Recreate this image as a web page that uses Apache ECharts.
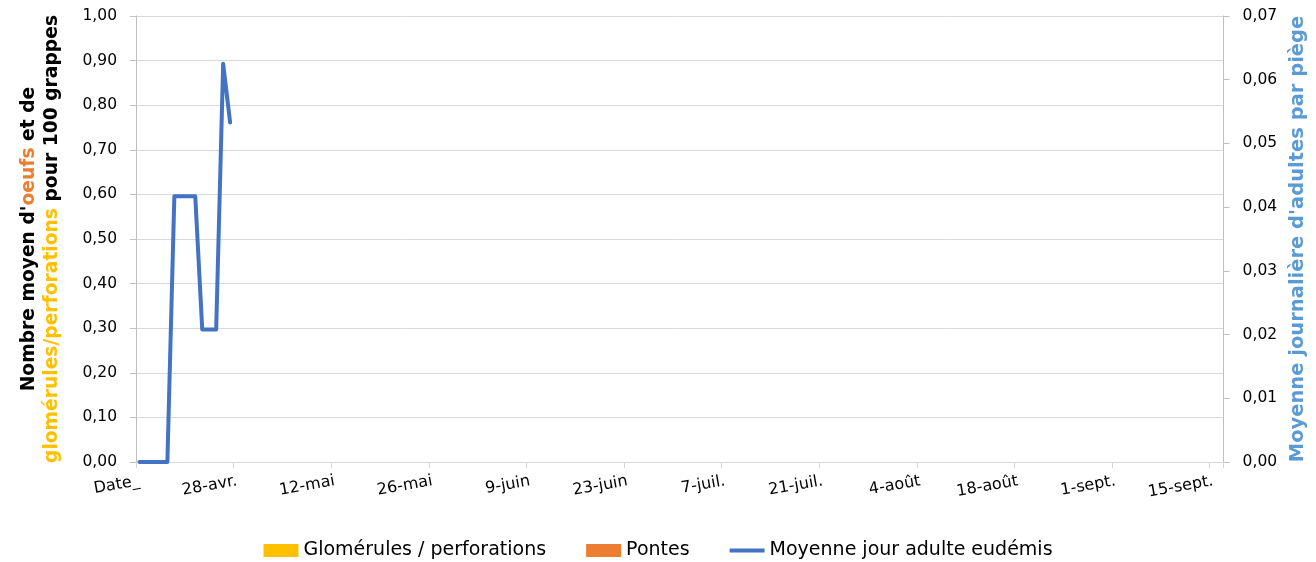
<!DOCTYPE html>
<html>
<head>
<meta charset="utf-8">
<script src="https://cdn.jsdelivr.net/npm/echarts@6/dist/echarts.min.js"></script>
<style>
  html, body { margin: 0; padding: 0; background: #fff; }
  #chart { width: 1316px; height: 562px; }
</style>
</head>
<body>
<div id="chart"></div>
<script>
// axe des dates : un jour par catégorie, du 14 avril au 16 septembre
const startDay = 14;
const moisNoms = ['avr.', 'mai', 'juin', 'juil.', 'août', 'sept.'];
const moisJours = [30, 31, 30, 31, 31, 30];
const nbJours = 156;

// relevés (date, moyenne jour adulte eudémis par piège)
const datesReleve = ['14-avr.', '18-avr.', '19-avr.', '22-avr.', '23-avr.', '25-avr.', '26-avr.', '27-avr.'];
const adultesEudemis = [0, 0, 0.0417, 0.0417, 0.0208, 0.0208, 0.0625, 0.0533];
const glomerules = [];
const pontes = [];

const fontName = 'DejaVu Sans';

// construit la liste des jours
const categories = [];
let m = 0, d = startDay;
for (let i = 0; i < nbJours; i++) {
  categories.push(d + '-' + moisNoms[m]);
  d++;
  if (d > moisJours[m]) { d = 1; m++; }
}

const fmt = (v) => v.toFixed(2).replace('.', ',');

// icône trait pour la légende (les deux petits segments fixent la boîte)
const lineIcon = 'path://M0,0L0.01,0ZM0,13L0.01,13ZM0,4.5L35,4.5L35,8.5L0,8.5Z';

const chart = echarts.init(document.getElementById('chart'), null, { renderer: 'canvas' });

const titleRich = (color) => ({
  color: color, fontSize: 18.7, fontWeight: 'bold', fontFamily: fontName, lineHeight: 23,
});

const option = {
  animation: false,
  textStyle: { fontFamily: fontName },
  grid: {
    left: 136,
    right: 89,
    top: 16,
    bottom: 100,
  },
  legend: {
    left: 'center',
    top: 536,
    itemWidth: 35,
    itemHeight: 13,
    itemGap: 40,
    textStyle: { fontSize: 19, color: '#000', fontFamily: fontName },
    data: [
      { name: 'Glomérules / perforations', icon: 'rect' },
      { name: 'Pontes', icon: 'rect' },
      { name: 'Moyenne jour adulte eudémis', icon: lineIcon, itemStyle: { borderWidth: 0 } },
    ],
  },
  xAxis: {
    type: 'category',
    boundaryGap: true,
    data: categories,
    axisLine: { lineStyle: { color: '#D9D9D9', width: 1 } },
    axisTick: { show: true, interval: 13, length: 6, lineStyle: { color: '#D9D9D9' } },
    axisLabel: {
      interval: 13,
      rotate: 10,
      margin: 19,
      fontSize: 16,
      color: '#000',
      formatter: (value, index) => index === 0 ? 'Date_' : value,
    },
    splitLine: { show: false },
  },
  yAxis: [
    {
      type: 'value',
      min: 0,
      max: 1,
      interval: 0.1,
      position: 'left',
      axisLine: { show: true, lineStyle: { color: '#BFBFBF' } },
      axisTick: { show: true, length: 6, lineStyle: { color: '#BFBFBF' } },
      axisLabel: { fontSize: 15.5, color: '#000', margin: 19, formatter: fmt },
      splitLine: { show: true, lineStyle: { color: '#D9D9D9', width: 1 } },
      name: '{k|Nombre moyen d\'}{o|oeufs}{k| et de}\n{y|glomérules/perforations}{k| pour 100 grappes}',
      nameLocation: 'middle',
      nameGap: 72,
      nameTextStyle: {
        fontSize: 18.7,
        fontWeight: 'bold',
        lineHeight: 23,
        rich: {
          k: titleRich('#000'),
          o: titleRich('#ED7D31'),
          y: titleRich('#FFC000'),
        },
      },
    },
    {
      type: 'value',
      min: 0,
      max: 0.07,
      interval: 0.01,
      position: 'right',
      axisLine: { show: true, lineStyle: { color: '#BFBFBF' } },
      axisTick: { show: true, length: 6, lineStyle: { color: '#BFBFBF' } },
      axisLabel: { fontSize: 15.5, color: '#000', margin: 19, formatter: fmt },
      splitLine: { show: false },
      name: 'Moyenne journalière d\'adultes par piège',
      nameLocation: 'middle',
      nameGap: 60,
      nameTextStyle: { fontSize: 19.5, fontWeight: 'bold', color: '#5B9BD5', fontFamily: fontName },
    },
  ],
  series: [
    {
      name: 'Glomérules / perforations',
      type: 'bar',
      yAxisIndex: 0,
      itemStyle: { color: '#FFC000' },
      data: glomerules,
    },
    {
      name: 'Pontes',
      type: 'bar',
      yAxisIndex: 0,
      itemStyle: { color: '#ED7D31' },
      data: pontes,
    },
    {
      name: 'Moyenne jour adulte eudémis',
      type: 'line',
      yAxisIndex: 1,
      symbol: 'none',
      itemStyle: { color: '#4472C4' },
      lineStyle: { color: '#4472C4', width: 4, cap: 'round', join: 'round' },
      data: datesReleve.map((dt, i) => [dt, adultesEudemis[i]]),
    },
  ],
};

chart.setOption(option);
</script>
</body>
</html>
